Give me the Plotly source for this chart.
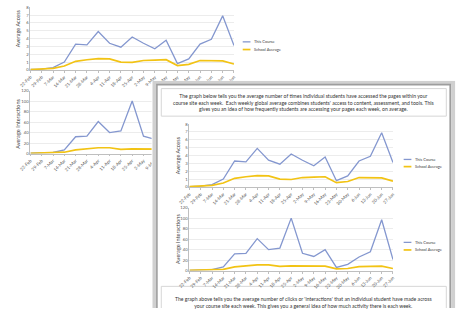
import plotly.graph_objects as go

# ---------------- data ----------------
weeks = ["22-Feb", "29-Feb", "7-Mar", "14-Mar", "21-Mar", "28-Mar", "4-Apr", "11-Apr",
         "18-Apr", "25-Apr", "2-May", "9-May", "16-May", "23-May", "30-May", "6-Jun",
         "13-Jun", "20-Jun", "27-Jun"]
access_course = [0.05, 0.1, 0.3, 1.0, 3.3, 3.2, 4.9, 3.4, 2.9, 4.2, 3.4, 2.7, 3.8, 0.8,
                 1.4, 3.3, 3.9, 6.9, 3.1]
access_school = [0.05, 0.1, 0.2, 0.5, 1.1, 1.3, 1.45, 1.4, 1.0, 0.95, 1.2, 1.25, 1.3,
                 0.55, 0.7, 1.2, 1.2, 1.15, 0.75]
inter_course = [0.5, 1, 2, 7, 32, 33, 61, 40, 43, 100, 33, 27, 40, 6, 12, 26, 36, 97, 21]
inter_school = [0.5, 1, 1.5, 2.5, 7, 9, 11, 11, 8, 9, 8.5, 8.5, 8.5, 3.5, 4, 7.5, 8, 8.5, 4]
access_ticks = [0, 1, 2, 3, 4, 5, 6, 7, 8]
inter_ticks = [0, 20, 40, 60, 80, 100, 120]
series_names = ["This Course", "School Average"]
access_title = "Average Access"
inter_title = "Average Interactions"
text_top = ("The graph below tells you the average number of times individual students have accessed the pages within your<br>"
            "course site each week.  Each weekly global average combines students' access to content, assessment, and tools. This<br>"
            "gives you an idea of how frequently students are accessing your pages each week, on average.")
text_bottom = ("The graph above tells you the average number of clicks or 'interactions' that an individual student have made across<br>"
               "your course site each week. This gives you a general idea of how much activity there is each week.")

# ---------------- styling / layout helpers ----------------
W, H = 459, 310
BLUE = "#8497cf"
GOLD = "#f2c314"
FONT = "Lato"
colors = [BLUE, GOLD]
widths = [1.3, 1.7]


def dom_x(a, b):
    return [a / W, b / W]


def dom_y(top, bottom):
    return [1 - bottom / H, 1 - top / H]


def px(x):
    return x / W


def py(y):
    return 1 - y / H


fig = go.Figure()

charts = [
    # (axis suffix, x px range, y px range, series, ticks)
    ("", (20, 230), (4.3, 68), (access_course, access_school), access_ticks),
    ("2", (20, 230), (89, 153), (inter_course, inter_school), inter_ticks),
    ("4", (184, 394), (123, 187), (access_course, access_school), access_ticks),
    ("5", (184, 394), (208, 272), (inter_course, inter_school), inter_ticks),
]

for suf, (xa, xb), (yt, yb), series, ticks in charts:
    for name, vals, c, w in zip(series_names, series, colors, widths):
        fig.add_trace(go.Scatter(x=weeks, y=vals, mode="lines", name=name,
                                 line=dict(color=c, width=w), showlegend=False,
                                 xaxis="x" + suf, yaxis="y" + suf, hoverinfo="skip"))
    xkey = "xaxis" + suf
    ykey = "yaxis" + suf
    fig.update_layout({
        xkey: dict(domain=dom_x(xa, xb), anchor="y" + suf, type="category",
                   range=[0, len(weeks) - 1], tickmode="linear", tick0=0, dtick=1,
                   tickangle=-45, tickfont=dict(size=4.5, color="#595959", family=FONT),
                   showline=True, linecolor="#bfbfbf", linewidth=0.8, showgrid=False,
                   ticks="outside", ticklen=2, tickcolor="#bfbfbf", zeroline=False,
                   fixedrange=True),
        ykey: dict(domain=dom_y(yt, yb), anchor="x" + suf, range=[ticks[0], ticks[-1]],
                   tickmode="array", tickvals=ticks,
                   tickfont=dict(size=4.2, color="#595959", family=FONT),
                   showline=True, linecolor="#bfbfbf", linewidth=0.8, showgrid=True,
                   gridcolor="#ececec", gridwidth=0.6, zeroline=False, ticks="",
                   fixedrange=True),
    })

# panel subplot (covers the background charts)
P_X0, P_X1, P_Y0, P_Y1 = 145, 459, 79, 310
fig.add_trace(go.Scatter(x=[None], y=[None], xaxis="x3", yaxis="y3", showlegend=False,
                         hoverinfo="skip"))
fig.update_layout(
    xaxis3=dict(domain=dom_x(P_X0, P_X1), anchor="y3", range=[0, 1], visible=False,
                fixedrange=True),
    yaxis3=dict(domain=dom_y(P_Y0, P_Y1), anchor="x3", range=[0, 1], visible=False,
                fixedrange=True),
)


def qx(x):
    return (x - P_X0) / (P_X1 - P_X0)


def qy(y):
    return 1 - (y - P_Y0) / (P_Y1 - P_Y0)


shapes = []
# panel shadow and border
shapes.append(dict(type="rect", xref="x3", yref="y3", layer="below",
                   x0=qx(148), x1=qx(456), y0=qy(81), y1=qy(330),
                   line=dict(color="#d0d0d0", width=4), fillcolor="white"))
shapes.append(dict(type="rect", xref="x3", yref="y3", layer="below",
                   x0=qx(150.5), x1=qx(453), y0=qy(83), y1=qy(330),
                   line=dict(color="#9d9d9d", width=1.6), fillcolor="white"))
# text boxes
shapes.append(dict(type="rect", xref="x3", yref="y3", layer="below",
                   x0=qx(155), x1=qx(449), y0=qy(87), y1=qy(115),
                   line=dict(color="#d6d6d6", width=1), fillcolor="white"))
shapes.append(dict(type="rect", xref="x3", yref="y3", layer="below",
                   x0=qx(155), x1=qx(449), y0=qy(288), y1=qy(330),
                   line=dict(color="#d6d6d6", width=1), fillcolor="white"))

annotations = []
# manual legends
legend_pos = [(239, 39.5, 47.3), (405, 159, 166.3), (405, 243.3, 251)]
for lx, ly1, ly2 in legend_pos:
    for name, c, w, ly in zip(series_names, colors, widths, (ly1, ly2)):
        shapes.append(dict(type="line", xref="paper", yref="paper", layer="above",
                           x0=px(lx), x1=px(lx + 8), y0=py(ly), y1=py(ly),
                           line=dict(color=c, width=w)))
        annotations.append(dict(text=name, x=px(lx + 9.5), y=py(ly), xref="paper",
                                yref="paper", xanchor="left", yanchor="middle",
                                showarrow=False,
                                font=dict(size=4, color="#404040", family=FONT)))

# axis titles
for t, x, y in [(access_title, 7, 26), (inter_title, 7, 123),
                (access_title, 172, 155), (inter_title, 172, 240)]:
    annotations.append(dict(text=t, x=px(x), y=py(y), xref="paper", yref="paper",
                            textangle=-90, showarrow=False, xanchor="center",
                            yanchor="middle",
                            font=dict(size=5.5, color="#404040", family=FONT)))

# panel texts
annotations.append(dict(text=text_top, x=px(302), y=py(101.5), xref="paper", yref="paper",
                        showarrow=False, xanchor="center", yanchor="middle", align="center",
                        font=dict(size=5.1, color="#333333", family=FONT)))
annotations.append(dict(text=text_bottom, x=px(302), y=py(295.5), xref="paper", yref="paper",
                        showarrow=False, xanchor="center", yanchor="top", align="center",
                        font=dict(size=5.1, color="#333333", family=FONT)))

fig.update_layout(
    width=W, height=H, autosize=False,
    margin=dict(l=0, r=0, t=0, b=0),
    paper_bgcolor="white", plot_bgcolor="white",
    showlegend=False,
    shapes=shapes, annotations=annotations,
    font=dict(family=FONT),
)

fig.write_html("out.html", config={"displayModeBar": False})
